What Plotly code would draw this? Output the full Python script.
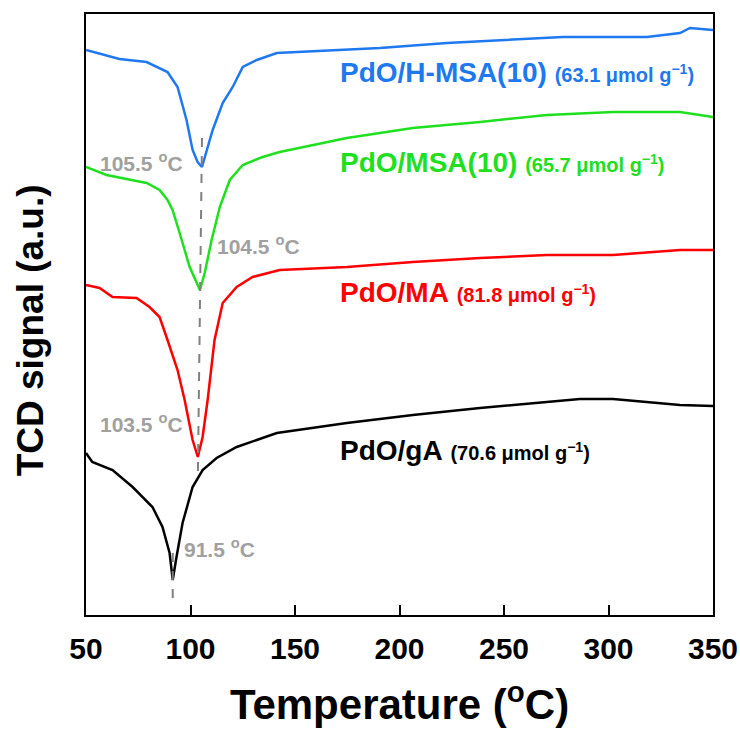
import plotly.graph_objects as go

# ---- data (temperature in °C, TCD signal in arbitrary units) ----
t_hmsa = [50, 66, 79, 89, 93.8, 98.1, 101, 103.4, 105.5, 106.8, 110.6, 115.4, 120.2, 125, 131.7, 141.3,
          190.6, 222.7, 254.3, 278.2, 302.2, 318.4, 334.2, 339, 350]
s_hmsa = [565, 556, 553, 543, 528, 495, 465, 453, 448, 458, 485, 512, 528, 548, 555, 562,
          567, 572, 575, 578, 578, 578, 582, 587, 585]

t_msa = [50, 59.8, 79, 85.2, 89, 91.4, 94.8, 99.6, 104.5, 106.8, 110.1, 114, 118.8, 125, 134.5, 142.7,
         174.8, 206.4, 238.5, 270.5, 302.2, 334.2, 350]
s_msa = [448, 440, 432, 425, 415, 405, 382, 348, 325, 342, 375, 408, 435, 450, 458, 463,
         477, 487, 493, 500, 503, 503, 498]

t_ma = [50, 56.5, 62.7, 74.2, 80.4, 85.2, 89, 93.8, 97.2, 101, 103.5, 105.8, 108.2, 111.5, 115.4, 122.1,
        129.7, 142.7, 174.8, 206.4, 238.5, 270.5, 302.2, 334.2, 350]
s_ma = [330, 327, 318, 317, 308, 298, 275, 245, 215, 175, 158, 178, 215, 275, 312, 328,
        338, 345, 348, 353, 357, 360, 360, 365, 365]

t_ga = [50, 53, 62.7, 72.3, 81.8, 86.6, 90, 91.5, 93.3, 96.2, 101, 105.8, 112.5, 122.1, 131.7, 141.3,
        174.8, 206.4, 238.5, 270.5, 286.3, 302.2, 318.4, 334.2, 350]
s_ga = [162, 153, 145, 128, 108, 88, 62, 35, 58, 92, 128, 145, 157, 168, 175, 182,
        192, 200, 207, 213, 216, 216, 213, 210, 209]

names = ["PdO/H-MSA(10)", "PdO/MSA(10)", "PdO/MA", "PdO/gA"]
uptakes = ["63.1", "65.7", "81.8", "70.6"]
colors = ["#1E78F0", "#1EE01E", "#FF0000", "#000000"]
series_t = [t_hmsa, t_msa, t_ma, t_ga]
series_s = [s_hmsa, s_msa, s_ma, s_ga]
label_y = [543, 453, 323, 165]
label_x = 170.4

peak_text = ["105.5", "104.5", "103.5", "91.5"]
peak_x = [97.2, 111.5, 97.2, 95.7]
peak_y = [453, 370, 192, 67]
peak_anchor = ["right", "left", "right", "left"]

dash1_t = [105.5, 103.5]
dash1_s = [477, 135]
dash2_t = [91.5, 91.5]
dash2_s = [62, 13]

FONT = "Liberation Sans, Arial, sans-serif"

fig = go.Figure()
for t, s, c in zip(series_t, series_s, colors):
    fig.add_trace(go.Scatter(x=t, y=s, mode="lines", line=dict(color=c, width=2.5), showlegend=False))

for dt, ds in [(dash1_t, dash1_s), (dash2_t, dash2_s)]:
    fig.add_trace(go.Scatter(x=dt, y=ds, mode="lines",
                             line=dict(color="#808080", width=2, dash="dash"), showlegend=False))

for n, u, c, y in zip(names, uptakes, colors, label_y):
    fig.add_annotation(x=label_x, y=y, xanchor="left", yanchor="middle", showarrow=False,
                       text=f"<b>{n}</b> <span style='font-size:20px'><b>({u} μmol g<sup>−1</sup>)</b></span>",
                       font=dict(family=FONT, size=28, color=c))

for pt, px_, py_, pa in zip(peak_text, peak_x, peak_y, peak_anchor):
    fig.add_annotation(x=px_, y=py_, xanchor=pa, yanchor="middle", showarrow=False,
                       text=f"<b>{pt} <sup>o</sup>C</b>",
                       font=dict(family=FONT, size=21, color="#A0A0A0"))

# y-axis title as a rotated annotation (positioned like the reference)
fig.add_annotation(xref="paper", yref="paper", x=-0.089, y=0.474, xanchor="center", yanchor="middle",
                   showarrow=False, textangle=-90, text="<b>TCD signal (a.u.)</b>",
                   font=dict(family=FONT, size=37, color="black"))

fig.update_layout(
    width=740, height=733,
    margin=dict(l=86, r=27, t=14, b=118),
    paper_bgcolor="white", plot_bgcolor="white",
    font=dict(family=FONT, color="black"),
    xaxis=dict(range=[50, 350], tickvals=[50, 100, 150, 200, 250, 300, 350],
               ticks="inside", ticklen=10, tickwidth=2, tickcolor="black",
               showline=True, linecolor="black", linewidth=2, mirror=True,
               showgrid=False, zeroline=False, automargin=False, ticklabelstandoff=6,
               tickfont=dict(family=FONT, size=30, color="black", weight="bold"),
               title=dict(text="<b>Temperature (<sup>o</sup>C)</b>",
                          font=dict(family=FONT, size=42, color="black"), standoff=26)),
    yaxis=dict(range=[0, 601], showticklabels=False, ticks="",
               showline=True, linecolor="black", linewidth=2, mirror=True,
               showgrid=False, zeroline=False, automargin=False),
)

fig.write_html("out.html")
